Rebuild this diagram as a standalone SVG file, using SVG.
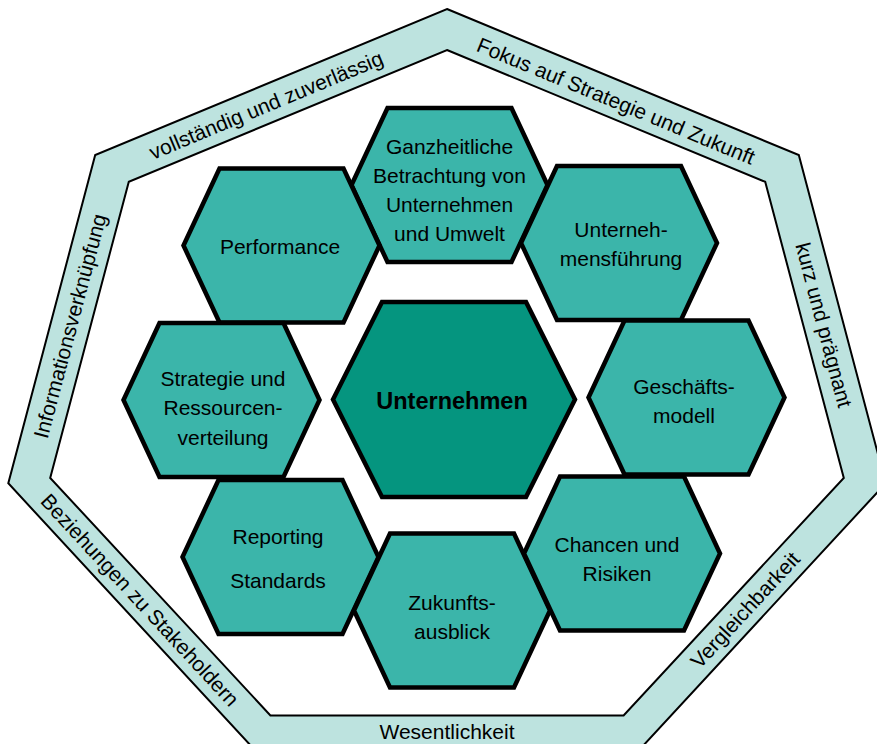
<svg xmlns="http://www.w3.org/2000/svg" xmlns:xlink="http://www.w3.org/1999/xlink" width="877" height="744" viewBox="0 0 877 744">
  <style>
    .band-outer { fill: #bde3df; stroke: #000; stroke-width: 2; stroke-linejoin: miter; }
    .band-inner { fill: #ffffff; stroke: #000; stroke-width: 2; stroke-linejoin: miter; }
    .hex { fill: #3bb5aa; stroke: #000; stroke-width: 4.5; stroke-linejoin: miter; }
    .hex-center { fill: #05957f; stroke: #000; stroke-width: 4.5; stroke-linejoin: miter; }
    text { font-family: "Liberation Sans", Arial, sans-serif; font-size: 21px; fill: #000; text-anchor: middle; }
    .bold { font-weight: bold; font-size: 23.5px; }
    .band-text { font-size: 21px; }
  </style>
  <defs>
    <polygon id="hexshape" points="-98,0 -62,-77 62,-77 98,0 62,77 -62,77"/>
    <polygon id="hexbig" points="-121,0 -72,-97.5 72,-97.5 121,0 72,97.5 -72,97.5"/>
  </defs>

  <g id="frame">
    <polygon class="band-outer" points="447,9 798.8,155.1 885.7,483.3 642.3,746.6 251.7,746.6 8.3,483.3 95.2,155.1"/>
    <polygon class="band-inner" points="447,50 765.2,181.8 843.8,477.9 623.6,715.4 270.4,715.4 50.2,477.9 128.8,181.8"/>
    <text class="band-text" transform="translate(266,105) rotate(-22.55)" dy="0.35em">vollständig und zuverlässig</text>
    <text class="band-text" transform="translate(616,101) rotate(22.55)" dy="0.35em">Fokus auf Strategie und Zukunft</text>
    <text class="band-text" transform="translate(824,325) rotate(75.17)" dy="0.35em">kurz und prägnant</text>
    <text class="band-text" transform="translate(745,610) rotate(-47.25)" dy="0.35em">Vergleichbarkeit</text>
    <text class="band-text" x="447" y="739">Wesentlichkeit</text>
    <text class="band-text" transform="translate(140,600) rotate(47.25)" dy="0.35em">Beziehungen zu Stakeholdern</text>
    <text class="band-text" transform="translate(70,326) rotate(-75.17)" dy="0.35em">Informationsverknüpfung</text>
  </g>

  <g id="connectors"></g>

  <g id="node-ganzheitliche">
    <use xlink:href="#hexshape" href="#hexshape" class="hex" transform="translate(449.5,185)"/>
    <text x="449.5" y="153.5">Ganzheitliche</text>
    <text x="449.5" y="182.8">Betrachtung von</text>
    <text x="449.5" y="212.1">Unternehmen</text>
    <text x="449.5" y="241.4">und Umwelt</text>
  </g>

  <g id="node-performance">
    <use xlink:href="#hexshape" href="#hexshape" class="hex" transform="translate(281.5,245.5)"/>
    <text x="280" y="254">Performance</text>
  </g>

  <g id="node-unternehmensfuehrung">
    <use xlink:href="#hexshape" href="#hexshape" class="hex" transform="translate(619,243)"/>
    <text x="621" y="237">Unterneh-</text>
    <text x="621" y="266">mensführung</text>
  </g>

  <g id="node-strategie">
    <use xlink:href="#hexshape" href="#hexshape" class="hex" transform="translate(221.5,400)"/>
    <text x="223" y="386">Strategie und</text>
    <text x="223" y="415">Ressourcen-</text>
    <text x="223" y="445">verteilung</text>
  </g>

  <g id="node-geschaeftsmodell">
    <use xlink:href="#hexshape" href="#hexshape" class="hex" transform="translate(686.5,397.5)"/>
    <text x="684" y="394">Geschäfts-</text>
    <text x="684" y="423">modell</text>
  </g>

  <g id="node-reporting">
    <use xlink:href="#hexshape" href="#hexshape" class="hex" transform="translate(280.5,557)"/>
    <text x="278" y="544">Reporting</text>
    <text x="278" y="588">Standards</text>
  </g>

  <g id="node-zukunftsausblick">
    <use xlink:href="#hexshape" href="#hexshape" class="hex" transform="translate(452,610.5)"/>
    <text x="452" y="610">Zukunfts-</text>
    <text x="452" y="639">ausblick</text>
  </g>

  <g id="node-chancen">
    <use xlink:href="#hexshape" href="#hexshape" class="hex" transform="translate(622,553.5)"/>
    <text x="617" y="552">Chancen und</text>
    <text x="617" y="581">Risiken</text>
  </g>

  <g id="node-unternehmen">
    <use xlink:href="#hexbig" href="#hexbig" class="hex-center" transform="translate(454,399.5)"/>
    <text class="bold" x="452" y="409">Unternehmen</text>
  </g>
</svg>
